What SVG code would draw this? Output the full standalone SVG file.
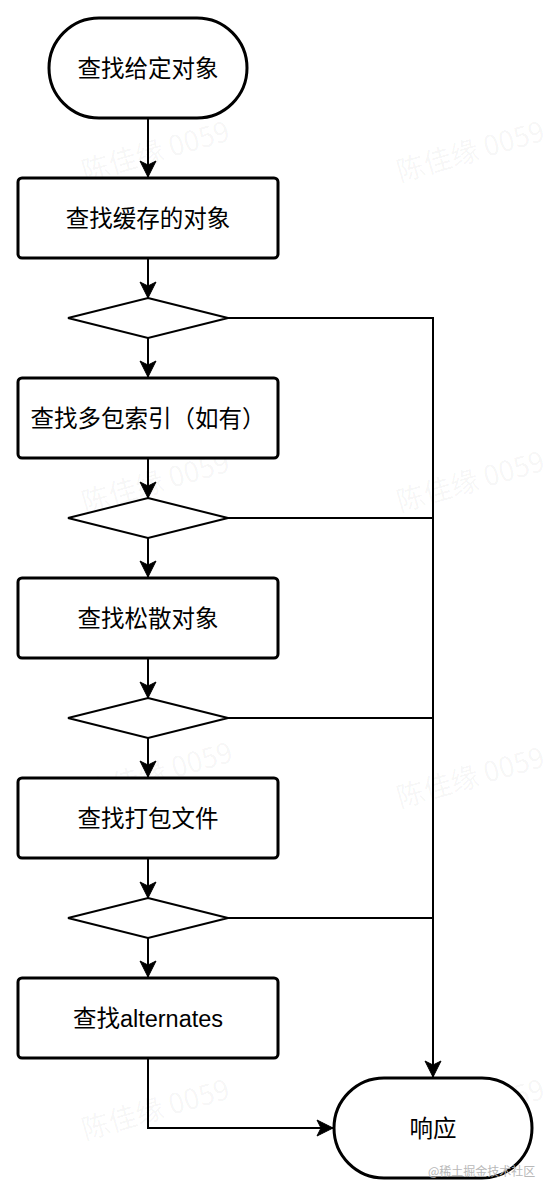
<svg xmlns="http://www.w3.org/2000/svg" width="550" height="1196" viewBox="0 0 550 1196">
  <style>
    .box { fill: #ffffff; stroke: #000000; stroke-width: 3; }
    .dia { fill: #ffffff; stroke: #000000; stroke-width: 2; }
    .edge { fill: none; stroke: #000000; stroke-width: 2; }
    .lbl { font-family: "Liberation Sans", "Noto Sans CJK SC", sans-serif; font-size: 23.5px; font-weight: 400; fill: #000000; text-anchor: middle; }
    .wm { font-family: "Noto Sans CJK SC", sans-serif; font-size: 28px; fill: #000000; fill-opacity: 0.045; }
    .brand { font-family: "Noto Sans CJK SC", sans-serif; font-size: 12px; fill: #b8b8b8; }
  </style>
  <defs>
    <marker id="arrow" viewBox="0 0 18 18" refX="17" refY="9" markerWidth="18" markerHeight="18" markerUnits="userSpaceOnUse" orient="auto">
      <path d="M1,1 L17,9 L1,17 L5,9 Z" fill="#000000" stroke="#000000" stroke-width="1"/>
    </marker>
  </defs>
  <rect x="0" y="0" width="550" height="1196" fill="#ffffff"/>

  <g id="watermarks">
    <text class="wm" transform="translate(85,182) rotate(-16)">陈佳缘 0059</text>
    <text class="wm" transform="translate(400,182) rotate(-16)">陈佳缘 0059</text>
    <text class="wm" transform="translate(85,513) rotate(-16)">陈佳缘 0059</text>
    <text class="wm" transform="translate(400,512) rotate(-16)">陈佳缘 0059</text>
    <text class="wm" transform="translate(88,803) rotate(-16)">陈佳缘 0059</text>
    <text class="wm" transform="translate(400,808) rotate(-16)">陈佳缘 0059</text>
    <text class="wm" transform="translate(85,1140) rotate(-16)">陈佳缘 0059</text>
    <text class="wm" transform="translate(400,1140) rotate(-16)">陈佳缘 0059</text>
  </g>

  <g id="connectors">
    <path class="edge" d="M148,118 V177" marker-end="url(#arrow)"/>
    <path class="edge" d="M148,258 V298" marker-end="url(#arrow)"/>
    <path class="edge" d="M148,338 V377" marker-end="url(#arrow)"/>
    <path class="edge" d="M148,458 V498" marker-end="url(#arrow)"/>
    <path class="edge" d="M148,538 V577" marker-end="url(#arrow)"/>
    <path class="edge" d="M148,658 V698" marker-end="url(#arrow)"/>
    <path class="edge" d="M148,738 V777" marker-end="url(#arrow)"/>
    <path class="edge" d="M148,858 V898" marker-end="url(#arrow)"/>
    <path class="edge" d="M148,938 V977" marker-end="url(#arrow)"/>
    <path class="edge" d="M228,318 H433 V1077" marker-end="url(#arrow)"/>
    <path class="edge" d="M228,518 H433"/>
    <path class="edge" d="M228,718 H433"/>
    <path class="edge" d="M228,918 H433"/>
    <path class="edge" d="M148,1058 V1128 H333" marker-end="url(#arrow)"/>
  </g>

  <g id="start">
    <rect class="box" x="49" y="18" width="198" height="100" rx="50" ry="50"/>
    <text class="lbl" x="148" y="77">查找给定对象</text>
  </g>
  <g id="cache">
    <rect class="box" x="18" y="178" width="260" height="80" rx="4" ry="4"/>
    <text class="lbl" x="148" y="227">查找缓存的对象</text>
  </g>
  <g id="d1">
    <polygon class="dia" points="148,298 228,318 148,338 68,318"/>
  </g>
  <g id="multipack">
    <rect class="box" x="18" y="378" width="260" height="80" rx="4" ry="4"/>
    <text class="lbl" x="148" y="427">查找多包索引（如有）</text>
  </g>
  <g id="d2">
    <polygon class="dia" points="148,498 228,518 148,538 68,518"/>
  </g>
  <g id="loose">
    <rect class="box" x="18" y="578" width="260" height="80" rx="4" ry="4"/>
    <text class="lbl" x="148" y="627">查找松散对象</text>
  </g>
  <g id="d3">
    <polygon class="dia" points="148,698 228,718 148,738 68,718"/>
  </g>
  <g id="packfile">
    <rect class="box" x="18" y="778" width="260" height="80" rx="4" ry="4"/>
    <text class="lbl" x="148" y="827">查找打包文件</text>
  </g>
  <g id="d4">
    <polygon class="dia" points="148,898 228,918 148,938 68,918"/>
  </g>
  <g id="alternates">
    <rect class="box" x="18" y="978" width="260" height="80" rx="4" ry="4"/>
    <text class="lbl" x="148" y="1027">查找alternates</text>
  </g>
  <g id="response">
    <rect class="box" x="334" y="1078" width="198" height="100" rx="50" ry="50"/>
    <text class="lbl" x="433" y="1137">响应</text>
  </g>

  <text class="brand" x="428" y="1176">@稀土掘金技术社区</text>
</svg>
